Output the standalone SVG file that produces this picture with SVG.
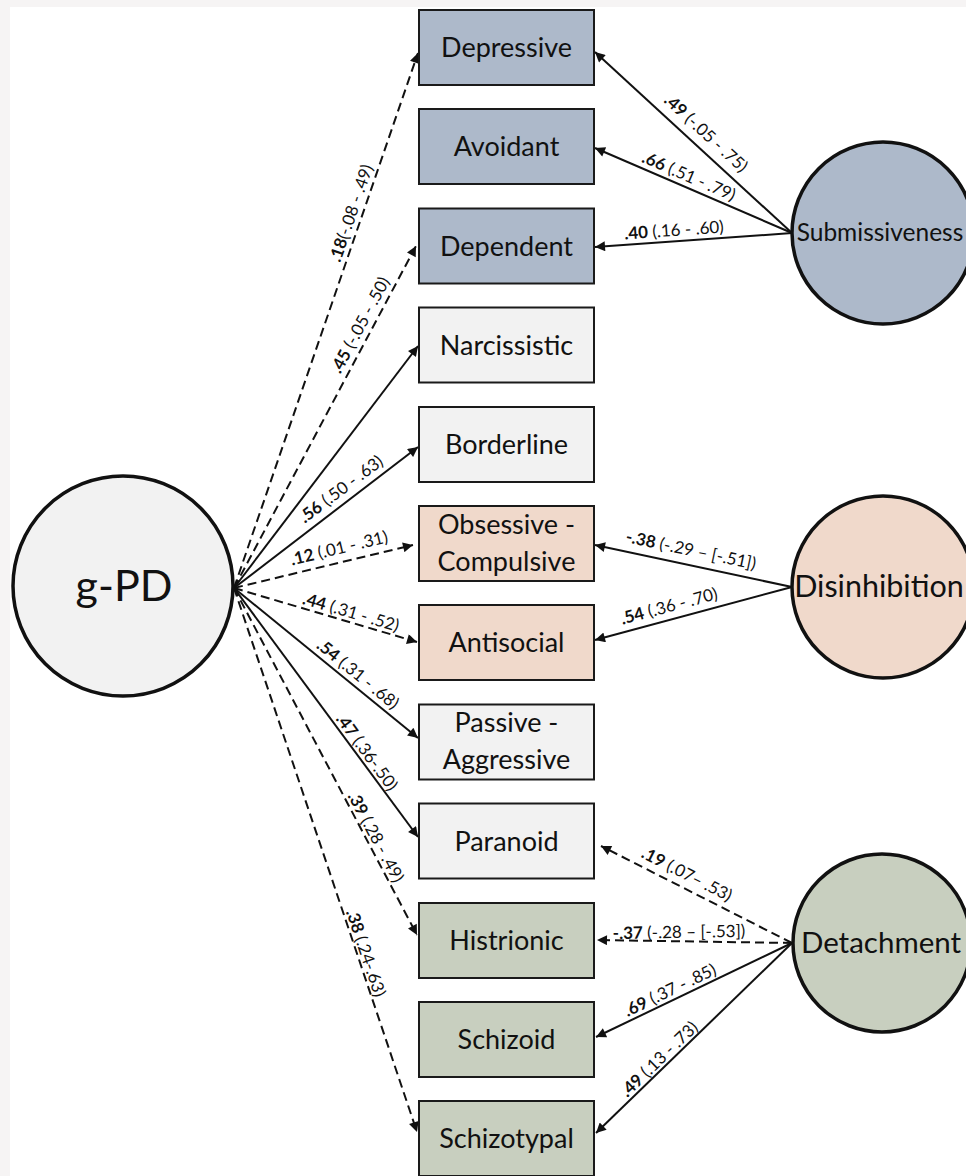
<svg xmlns="http://www.w3.org/2000/svg" width="966" height="1176" viewBox="0 0 966 1176">
<style>
.bx{stroke:#1a1a1a;stroke-width:2}
.blue{fill:#adb9ca}.peach{fill:#f0d9cb}.green{fill:#c8cfbf}.white{fill:#f2f2f2}
.lat{stroke:#111;stroke-width:3.5}
.bt{font-family:Lato,"Open Sans",sans-serif;font-size:27px;fill:#111;text-anchor:middle}
.ct{font-family:Lato,"Open Sans",sans-serif;fill:#111;text-anchor:middle}
.sl{fill:none;stroke:#111;stroke-width:2;marker-end:url(#ah)}
.dl{fill:none;stroke:#111;stroke-width:2;stroke-dasharray:9 5;marker-end:url(#ah)}
.lb{font-family:Lato,"Open Sans",sans-serif;font-size:17px;fill:#111;text-anchor:middle}
.lb tspan.b{font-weight:bold}
</style>
<defs>
<marker id="ah" viewBox="0 0 10 10" refX="10" refY="5" markerWidth="12" markerHeight="10" markerUnits="userSpaceOnUse" orient="auto"><path d="M0,0 L10,5 L0,10 z" fill="#111"/></marker>
</defs>
<rect x="0" y="0" width="966" height="1176" fill="#f6f4f4"/>
<rect x="10" y="7" width="956" height="1169" fill="#ffffff"/>

<g id="connectors">
<line class="dl" x1="234" y1="588" x2="418" y2="53"/>
<line class="dl" x1="234" y1="588" x2="416" y2="246"/>
<line class="sl" x1="234" y1="588" x2="418" y2="346"/>
<line class="sl" x1="234" y1="588" x2="418" y2="447"/>
<line class="dl" x1="234" y1="588" x2="413" y2="545"/>
<line class="dl" x1="234" y1="588" x2="417" y2="642"/>
<line class="sl" x1="234" y1="588" x2="418" y2="738"/>
<line class="sl" x1="234" y1="588" x2="418" y2="837"/>
<line class="dl" x1="234" y1="588" x2="417" y2="935"/>
<line class="dl" x1="234" y1="588" x2="417" y2="1132"/>
<line class="sl" x1="792" y1="233" x2="595" y2="52"/>
<line class="sl" x1="792" y1="233" x2="595" y2="148"/>
<line class="sl" x1="792" y1="233" x2="595" y2="247"/>
<line class="sl" x1="792" y1="587" x2="595" y2="545"/>
<line class="sl" x1="792" y1="587" x2="595" y2="640"/>
<line class="dl" x1="792" y1="943" x2="601" y2="846"/>
<line class="dl" x1="792" y1="943" x2="597" y2="940"/>
<line class="sl" x1="792" y1="943" x2="596" y2="1037"/>
<line class="sl" x1="792" y1="943" x2="596" y2="1133"/>

<text class="lb" dy="0.35em" transform="translate(351,213) rotate(-71)"><tspan class="b">.18</tspan>(-.08 - .49)</text>
<text class="lb" dy="0.35em" transform="translate(360,325) rotate(-62)"><tspan class="b">.45</tspan> (-.05 - .50)</text>
<text class="lb" dy="0.35em" transform="translate(341,489) rotate(-37)"><tspan class="b">.56</tspan> (.50 - .63)</text>
<text class="lb" dy="0.35em" transform="translate(339,548) rotate(-13.5)"><tspan class="b">.12</tspan> (.01 - .31)</text>
<text class="lb" dy="0.35em" transform="translate(351,612) rotate(16.4)"><tspan class="b">.44</tspan> (.31 - .52)</text>
<text class="lb" dy="0.35em" transform="translate(358,674) rotate(39)"><tspan class="b">.54</tspan> (.31 - .68)</text>
<text class="lb" dy="0.35em" transform="translate(367,752) rotate(53.5)"><tspan class="b">.47</tspan> (.36-.50)</text>
<text class="lb" dy="0.35em" transform="translate(376,837) rotate(62)"><tspan class="b">.39</tspan> (.28 - .49)</text>
<text class="lb" dy="0.35em" transform="translate(366,953) rotate(71.4)"><tspan class="b">.38</tspan> (.24-.63)</text>

<text class="lb" dy="0.35em" transform="translate(706,133) rotate(42.6)"><tspan class="b">.49</tspan> (-.05 - .75)</text>
<text class="lb" dy="0.35em" transform="translate(689,176) rotate(23.3)"><tspan class="b">.66</tspan> (.51 - .79)</text>
<text class="lb" dy="0.35em" transform="translate(674,230) rotate(-4)"><tspan class="b">.40</tspan> (.16 - .60)</text>
<text class="lb" dy="0.35em" transform="translate(691,550) rotate(12)"><tspan class="b">-.38</tspan> (-.29 – [-.51])</text>
<text class="lb" dy="0.35em" transform="translate(669,606) rotate(-15)"><tspan class="b">.54</tspan> (.36 - .70)</text>
<text class="lb" dy="0.35em" transform="translate(687,874) rotate(27)"><tspan class="b">.19</tspan> (.07– .53)</text>
<text class="lb" dy="0.35em" transform="translate(679,932) rotate(-1)"><tspan class="b">-.37</tspan> (-.28 – [-.53])</text>
<text class="lb" dy="0.35em" transform="translate(670,990) rotate(-25.6)"><tspan class="b">.69</tspan> (.37 - .85)</text>
<text class="lb" dy="0.35em" transform="translate(659,1059) rotate(-44)"><tspan class="b">.49</tspan> (.13 - .73)</text>
</g>

<g id="gpd"><circle class="lat" cx="123" cy="586" r="110" fill="#f2f2f2"/><text class="ct" x="124" y="601" font-size="43">g-PD</text></g>
<g id="submissiveness"><circle class="lat" cx="883" cy="233" r="91" fill="#adb9ca"/><text class="ct" x="880" y="241" font-size="24.5">Submissiveness</text></g>
<g id="disinhibition"><circle class="lat" cx="883" cy="587" r="91" fill="#f0d9cb"/><text class="ct" x="879" y="597" font-size="30.5">Disinhibition</text></g>
<g id="detachment"><circle class="lat" cx="882" cy="943" r="89" fill="#c8cfbf"/><text class="ct" x="881" y="953" font-size="29.5">Detachment</text></g>

<g id="depressive"><rect class="bx blue" x="419" y="10" width="175" height="75"/><text class="bt" x="506.5" y="57">Depressive</text></g>
<g id="avoidant"><rect class="bx blue" x="419" y="109" width="175" height="75"/><text class="bt" x="506.5" y="156">Avoidant</text></g>
<g id="dependent"><rect class="bx blue" x="419" y="208.5" width="175" height="75"/><text class="bt" x="506.5" y="255.5">Dependent</text></g>
<g id="narcissistic"><rect class="bx white" x="419" y="307.5" width="175" height="75"/><text class="bt" x="506.5" y="354.5">Narcissistic</text></g>
<g id="borderline"><rect class="bx white" x="419" y="407" width="175" height="75"/><text class="bt" x="506.5" y="454">Borderline</text></g>
<g id="obsessive"><rect class="bx peach" x="419" y="506" width="175" height="75"/><text class="bt" x="506.5" y="534">Obsessive -</text><text class="bt" x="506.5" y="571">Compulsive</text></g>
<g id="antisocial"><rect class="bx peach" x="419" y="605" width="175" height="75"/><text class="bt" x="506.5" y="652">Antisocial</text></g>
<g id="passive"><rect class="bx white" x="419" y="704.5" width="175" height="75"/><text class="bt" x="506.5" y="732">Passive -</text><text class="bt" x="506.5" y="769">Aggressive</text></g>
<g id="paranoid"><rect class="bx white" x="419" y="803.5" width="175" height="75"/><text class="bt" x="506.5" y="850.5">Paranoid</text></g>
<g id="histrionic"><rect class="bx green" x="419" y="903" width="175" height="75"/><text class="bt" x="506.5" y="950">Histrionic</text></g>
<g id="schizoid"><rect class="bx green" x="419" y="1002" width="175" height="75"/><text class="bt" x="506.5" y="1049">Schizoid</text></g>
<g id="schizotypal"><rect class="bx green" x="419" y="1101" width="175" height="75"/><text class="bt" x="506.5" y="1148">Schizotypal</text></g>
</svg>
